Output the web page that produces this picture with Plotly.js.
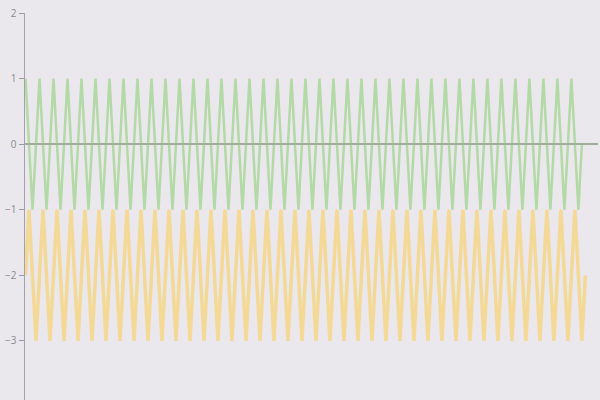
<!DOCTYPE html>
<html>
<head>
<meta charset="utf-8">
<script src="https://cdn.plot.ly/plotly-3.0.1.min.js"></script>
<style>
  html, body { margin: 0; padding: 0; background: #eae8ec; }
  #chart { width: 600px; height: 400px; }
</style>
</head>
<body>
<div id="chart"></div>
<script>
// samples, four per wave (peak, middle, trough, middle)
var greenValues = [
  1,0,-1,0, 1,0,-1,0, 1,0,-1,0, 1,0,-1,0, 1,0,-1,0, 1,0,-1,0, 1,0,-1,0, 1,0,-1,0, 1,0,-1,0, 1,0,-1,0,
  1,0,-1,0, 1,0,-1,0, 1,0,-1,0, 1,0,-1,0, 1,0,-1,0, 1,0,-1,0, 1,0,-1,0, 1,0,-1,0, 1,0,-1,0, 1,0,-1,0,
  1,0,-1,0, 1,0,-1,0, 1,0,-1,0, 1,0,-1,0, 1,0,-1,0, 1,0,-1,0, 1,0,-1,0, 1,0,-1,0, 1,0,-1,0, 1,0,-1,0,
  1,0,-1,0, 1,0,-1,0, 1,0,-1,0, 1,0,-1,0, 1,0,-1,0, 1,0,-1,0, 1,0,-1,0, 1,0,-1,0, 1,0,-1,0, 1,0,-1,0
]
var yellowValues = [
  -2,-1,-2,-3, -2,-1,-2,-3, -2,-1,-2,-3, -2,-1,-2,-3, -2,-1,-2,-3, -2,-1,-2,-3, -2,-1,-2,-3, -2,-1,-2,-3, -2,-1,-2,-3, -2,-1,-2,-3,
  -2,-1,-2,-3, -2,-1,-2,-3, -2,-1,-2,-3, -2,-1,-2,-3, -2,-1,-2,-3, -2,-1,-2,-3, -2,-1,-2,-3, -2,-1,-2,-3, -2,-1,-2,-3, -2,-1,-2,-3,
  -2,-1,-2,-3, -2,-1,-2,-3, -2,-1,-2,-3, -2,-1,-2,-3, -2,-1,-2,-3, -2,-1,-2,-3, -2,-1,-2,-3, -2,-1,-2,-3, -2,-1,-2,-3, -2,-1,-2,-3,
  -2,-1,-2,-3, -2,-1,-2,-3, -2,-1,-2,-3, -2,-1,-2,-3, -2,-1,-2,-3, -2,-1,-2,-3, -2,-1,-2,-3, -2,-1,-2,-3, -2,-1,-2,-3, -2,-1,-2,-3,
  -2
]
var yTicks = [-3, -2, -1, 0, 1, 2]

var traceGreen = {
  type: 'scatter',
  mode: 'lines',
  y: greenValues,
  line: {color: '#b3d9a6', width: 2.5}
}

var traceYellow = {
  type: 'scatter',
  mode: 'lines',
  y: yellowValues,
  line: {color: '#f4d895', width: 3.5}
}

var layout = {
  width: 600,
  height: 400,
  margin: {l: 25, r: 2, t: 13, b: 0},
  paper_bgcolor: '#eae8ec',
  plot_bgcolor: '#eae8ec',
  showlegend: false,
  hovermode: false,
  xaxis: {
    range: [-0.15, 163.6],
    visible: false,
    showgrid: false,
    zeroline: false
  },
  yaxis: {
    range: [-3.9, 2],
    tickvals: yTicks,
    ticks: 'outside',
    ticklen: 5,
    tickcolor: '#9a9aa0',
    showline: true,
    linecolor: '#a2a2a8',
    linewidth: 1.5,
    showgrid: false,
    zeroline: true,
    zerolinecolor: '#9fae98',
    zerolinewidth: 2,
    zerolinelayer: 'above traces',
    tickfont: {family: 'Open Sans', size: 10, color: '#8a8a8e'}
  }
}

Plotly.newPlot('chart', [traceGreen, traceYellow], layout, {staticPlot: true, displayModeBar: false})
</script>
</body>
</html>
